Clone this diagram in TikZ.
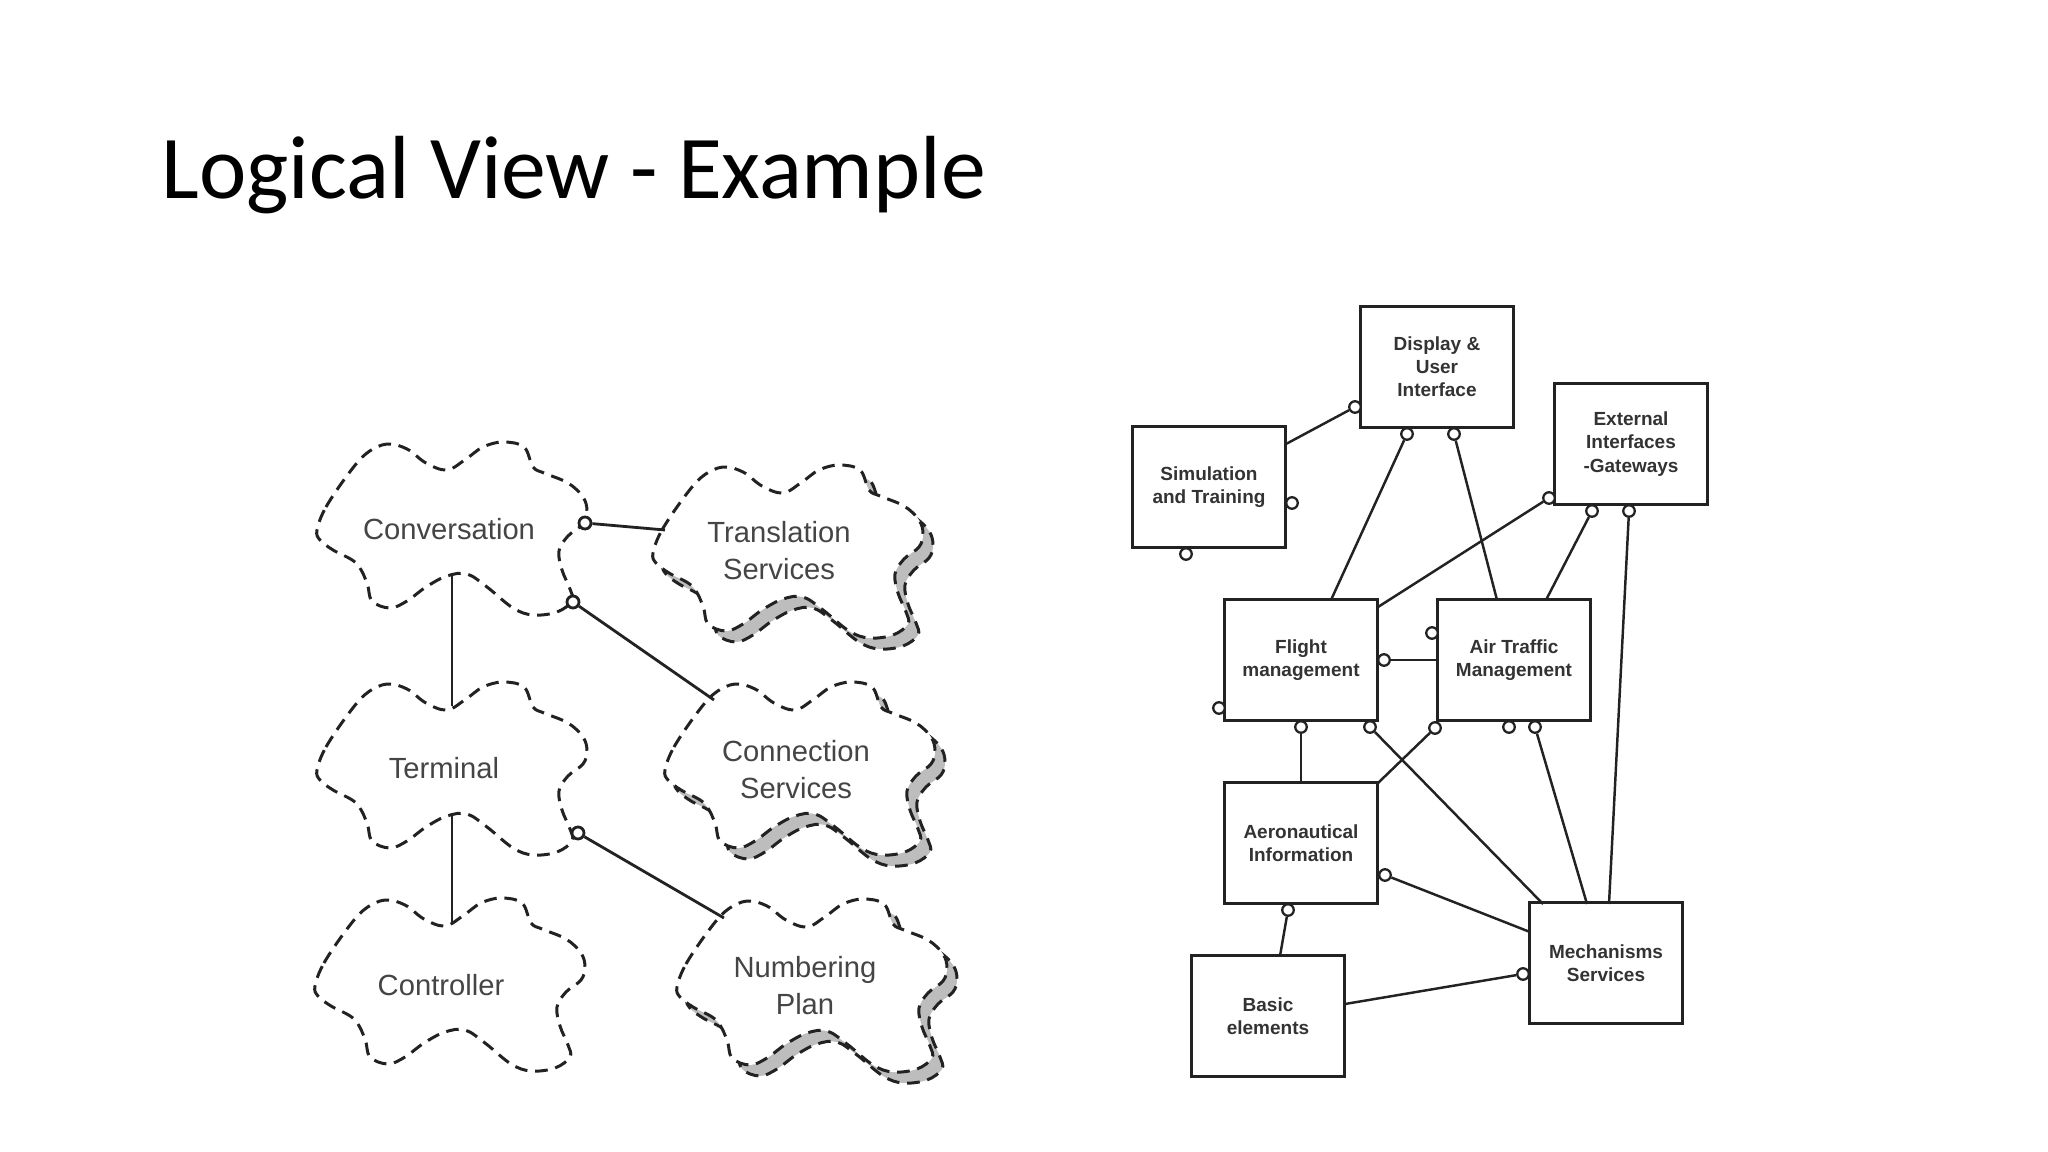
\documentclass[tikz,border=0pt]{standalone}
\usepackage{fontspec}
\setmainfont{Carlito}
\newfontfamily\arialf{Liberation Sans}
\usetikzlibrary{calc}
\definecolor{inkc}{HTML}{222222}
\definecolor{cltext}{HTML}{454545}
\definecolor{bxtext}{HTML}{333333}
\definecolor{shadec}{HTML}{BDBDBD}
\tikzset{
  cloudline/.style={draw=inkc, line width=0.85pt, dash pattern=on 3.6pt off 2.2pt},
  cloudpic/.pic={\path[pic actions] plot[smooth cycle, tension=0.6] coordinates {
    (-135,1) (-126,-22) (-103,-56) (-85,-76) (-65,-85) (-45,-80) (-26,-66) (-5,-59)
    (14,-70) (31,-82) (51,-87) (72,-82) (81,-62) (92,-56) (116,-46) (131,-32)
    (135,-18) (131,-5) (116,7) (107,22) (110,41) (118,60) (120,72) (105,83)
    (81,86) (61,79) (35,58) (15,45) (-5,47) (-26,58) (-45,72) (-62,79)
    (-80,72) (-85,54) (-96,34) (-119,21) (-132,11)};},
  cltxt/.style={font=\arialf\fontsize{8.3}{10.5}\selectfont, text=cltext, align=center, inner sep=0},
  lcirc/.style={circle, draw=inkc, fill=white, line width=0.8pt, inner sep=0, minimum size=0.12cm},
  lconn/.style={draw=inkc, line width=0.8pt},
  bx/.style={draw=inkc, line width=1.05pt, minimum width=1.53cm, minimum height=1.21cm, inner sep=0,
    font=\arialf\bfseries\fontsize{5.4}{6.6}\selectfont, text=bxtext, align=center},
  rcirc/.style={circle, draw=inkc, fill=white, line width=0.65pt, inner sep=0, minimum size=0.115cm},
  rconn/.style={draw=inkc, line width=0.7pt},
}
\begin{document}
\begin{tikzpicture}[x=0.01cm, y=-0.01cm]
\path[fill=white] (0,0) rectangle (2048,1152);
\useasboundingbox (0,0) rectangle (2048,1152);

% title
\node[anchor=base west, inner sep=0, font=\fontsize{25.5}{30}\selectfont] (title) at (161,199) {Logical View - Example};

% ---------- left: clouds ----------
\pic[cloudline, fill=white] at (452,529) {cloudpic};
\pic[cloudline, fill=white] at (452,769) {cloudpic};
\pic[cloudline, fill=white] at (450,985) {cloudpic};
\pic[cloudline, fill=shadec] at (798,563) {cloudpic};
\pic[cloudline, fill=white] at (788,552) {cloudpic};
\pic[cloudline, fill=shadec] at (810,780) {cloudpic};
\pic[cloudline, fill=white] at (800,769) {cloudpic};
\pic[cloudline, fill=shadec] at (822,997) {cloudpic};
\pic[cloudline, fill=white] at (812,986) {cloudpic};

\node[cltxt] (conv) at (449,529) {Conversation};
\node[cltxt] (trans) at (779,551) {Translation\\Services};
\node[cltxt] (term) at (444,768) {Terminal};
\node[cltxt] (conn) at (796,770) {Connection\\Services};
\node[cltxt] (ctrl) at (441,985) {Controller};
\node[cltxt] (numb) at (805,986) {Numbering\\Plan};

\coordinate (conv-b) at (452,576);
\coordinate (term-t) at (452,706);
\coordinate (term-b) at (452,816);
\coordinate (ctrl-t) at (452,922);
\coordinate (trans-l) at (665,530);
\coordinate (conn-tl) at (714,700);
\coordinate (numb-tl) at (724,918);

\node[lcirc] (cc1) at (585,523) {};
\node[lcirc] (cc2) at (573,602) {};
\node[lcirc] (tc1) at (578,833) {};

\draw[lconn] (conv-b) -- (term-t);
\draw[lconn] (term-b) -- (ctrl-t);
\draw[lconn] (cc1) -- (trans-l);
\draw[lconn] (cc2) -- (conn-tl);
\draw[lconn] (tc1) -- (numb-tl);

% ---------- right: boxes ----------
\node[bx] (disp) at (1437,367) {Display \&\\User\\Interface};
\node[bx] (sim) at (1209,487) {Simulation\\and Training};
\node[bx] (ext) at (1631,444) {External\\Interfaces\\-Gateways};
\node[bx] (fl) at (1301,660) {Flight\\management};
\node[bx] (atm) at (1514,660) {Air Traffic\\Management};
\node[bx] (aero) at (1301,843) {Aeronautical\\Information};
\node[bx] (basic) at (1268,1016) {Basic\\elements};
\node[bx] (mech) at (1606,963) {Mechanisms\\Services};

% interface circles
\node[rcirc] (dL) at (1355,407) {};
\node[rcirc] (dB1) at (1407,434) {};
\node[rcirc] (dB2) at (1454,434) {};
\node[rcirc] (sR) at (1292,503) {};
\node[rcirc] (sB) at (1186,554) {};
\node[rcirc] (eL) at (1549,498) {};
\node[rcirc] (eB1) at (1592,511) {};
\node[rcirc] (eB2) at (1629,511) {};
\node[rcirc] (fR) at (1384,660) {};
\node[rcirc] (fL) at (1219,708) {};
\node[rcirc] (fB1) at (1301,727) {};
\node[rcirc] (fB2) at (1370,727) {};
\node[rcirc] (aL) at (1432,633) {};
\node[rcirc] (aB0) at (1435,728) {};
\node[rcirc] (aB1) at (1509,727) {};
\node[rcirc] (aB2) at (1535,727) {};
\node[rcirc] (aeR) at (1385,875) {};
\node[rcirc] (aeB) at (1288,910) {};
\node[rcirc] (mL) at (1523,974) {};

% connector end points on boxes
\coordinate (sim-r) at (1286,444);
\coordinate (fl-t) at (1331,600);
\coordinate (fl-tr) at (1378,607);
\coordinate (atm-t1) at (1497,600);
\coordinate (atm-t2) at (1546,600);
\coordinate (atm-l) at (1438,660);
\coordinate (aero-t) at (1301,783);
\coordinate (aero-tr) at (1378,783);
\coordinate (mech-t1) at (1543,904);
\coordinate (mech-t2) at (1587,904);
\coordinate (mech-t3) at (1609,904);
\coordinate (mech-l) at (1530,932);
\coordinate (basic-t) at (1280,956);
\coordinate (basic-r) at (1345,1004);

\draw[rconn] (sim-r) -- (dL);
\draw[rconn] (dB1) -- (fl-t);
\draw[rconn] (dB2) -- (atm-t1);
\draw[rconn] (eL) -- (fl-tr);
\draw[rconn] (eB1) -- (atm-t2);
\draw[rconn] (eB2) -- (mech-t3);
\draw[rconn] (fR) -- (atm-l);
\draw[rconn] (fB1) -- (aero-t);
\draw[rconn] (fB2) -- (mech-t1);
\draw[rconn] (aB0) -- (aero-tr);
\draw[rconn] (aB2) -- (mech-t2);
\draw[rconn] (aeR) -- (mech-l);
\draw[rconn] (aeB) -- (basic-t);
\draw[rconn] (basic-r) -- (mL);
\end{tikzpicture}
\end{document}
